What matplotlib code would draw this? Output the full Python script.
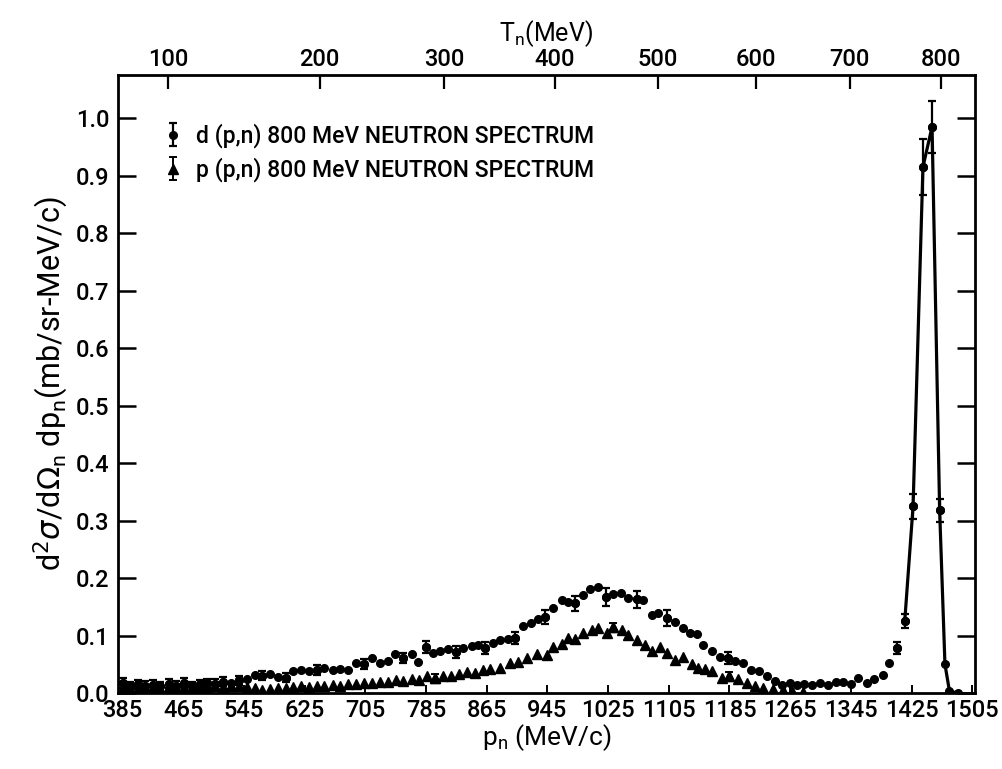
import numpy as np
import matplotlib
matplotlib.use("Agg")
import matplotlib.pyplot as plt

M_N = 939.6  # neutron mass, MeV

# ---- d(p,n) 800 MeV neutron spectrum (circles) ----
d_p = [385, 395, 405, 415, 425, 435, 446, 456, 466, 476, 487, 497, 507, 518, 528,
       538, 549, 559, 569, 580, 590, 600, 610, 620, 631, 641, 651, 662, 672, 682,
       693, 703, 714, 724, 735, 744, 755, 767, 774, 785, 794, 803, 814, 825, 834,
       846, 854, 863, 873, 883, 893, 902, 913, 923, 933, 942, 952, 964, 972, 981,
       992, 1001, 1012, 1022, 1031, 1042, 1051, 1063, 1071, 1083, 1091, 1102, 1113,
       1124, 1133, 1142, 1150, 1162, 1172, 1183, 1192, 1203, 1213, 1224, 1234, 1245,
       1254, 1265, 1274, 1283, 1294, 1304, 1315, 1325, 1334, 1345, 1355, 1366, 1375,
       1387, 1395, 1406, 1416, 1427, 1440, 1452, 1462, 1469, 1475, 1486]
d_y = [0.018, 0.012, 0.015, 0.013, 0.014, 0.012, 0.016, 0.013, 0.018, 0.012, 0.015,
       0.017, 0.016, 0.020, 0.018, 0.022, 0.025, 0.032, 0.030, 0.033, 0.028, 0.027,
       0.038, 0.040, 0.038, 0.040, 0.043, 0.040, 0.042, 0.040, 0.052, 0.050, 0.061,
       0.052, 0.055, 0.068, 0.061, 0.068, 0.054, 0.080, 0.070, 0.073, 0.076, 0.071,
       0.078, 0.082, 0.083, 0.078, 0.087, 0.092, 0.094, 0.096, 0.117, 0.122, 0.128,
       0.132, 0.148, 0.162, 0.158, 0.156, 0.170, 0.181, 0.184, 0.167, 0.172, 0.174,
       0.165, 0.163, 0.162, 0.136, 0.139, 0.131, 0.124, 0.113, 0.104, 0.102, 0.083,
       0.073, 0.063, 0.061, 0.056, 0.052, 0.040, 0.038, 0.030, 0.021, 0.014, 0.017,
       0.014, 0.016, 0.014, 0.017, 0.014, 0.019, 0.019, 0.016, 0.026, 0.017, 0.024,
       0.031, 0.052, 0.078, 0.125, 0.325, 0.915, 0.985, 0.318, 0.050, 0.003, 0.000]
d_err = [0.009, 0.008, 0.008, 0.008, 0.008, 0.008, 0.008, 0.008, 0.008, 0.008, 0.008,
         0.008, 0.008, 0.008, 0.000, 0.008, 0.000, 0.000, 0.008, 0.000, 0.000, 0.008,
         0.000, 0.000, 0.000, 0.008, 0.000, 0.000, 0.000, 0.000, 0.000, 0.009, 0.000,
         0.000, 0.000, 0.000, 0.009, 0.000, 0.000, 0.010, 0.000, 0.000, 0.000, 0.010,
         0.000, 0.000, 0.000, 0.010, 0.000, 0.000, 0.000, 0.011, 0.000, 0.000, 0.000,
         0.012, 0.000, 0.000, 0.000, 0.013, 0.000, 0.000, 0.000, 0.016, 0.000, 0.000,
         0.000, 0.015, 0.000, 0.000, 0.000, 0.014, 0.000, 0.000, 0.000, 0.000, 0.000,
         0.000, 0.000, 0.010, 0.000, 0.000, 0.000, 0.000, 0.000, 0.000, 0.000, 0.000,
         0.000, 0.000, 0.000, 0.000, 0.000, 0.000, 0.000, 0.000, 0.000, 0.000, 0.000,
         0.000, 0.000, 0.010, 0.012, 0.022, 0.048, 0.045, 0.020, 0.000, 0.000, 0.000]
d_line_from = 1416  # solid line joins the quasi-elastic peak points from here on

# ---- p(p,n) 800 MeV neutron spectrum (triangles) ----
p_p = [385, 395, 405, 415, 425, 435, 446, 456, 466, 476, 487, 497, 507, 518, 528,
       538, 549, 559, 569, 580, 590, 600, 610, 620, 631, 641, 651, 662, 672, 682,
       693, 703, 714, 724, 735, 745, 755, 766, 776, 786, 797, 807, 818, 828, 839,
       849, 860, 870, 882, 896, 906, 918, 931, 944, 952, 964, 972, 981, 992, 1004,
       1012, 1023, 1031, 1043, 1051, 1063, 1074, 1083, 1093, 1102, 1113, 1124, 1135,
       1143, 1153, 1162, 1175, 1185, 1196, 1208, 1218, 1229, 1242, 1255, 1268, 1282]
p_y = [0.008, 0.006, 0.008, 0.007, 0.009, 0.007, 0.010, 0.008, 0.010, 0.009, 0.011,
       0.010, 0.012, 0.010, 0.013, 0.012, 0.010, 0.008, 0.006, 0.007, 0.009, 0.008,
       0.010, 0.012, 0.011, 0.013, 0.012, 0.014, 0.013, 0.016, 0.015, 0.018, 0.017,
       0.020, 0.019, 0.022, 0.021, 0.024, 0.023, 0.030, 0.027, 0.030, 0.029, 0.033,
       0.036, 0.034, 0.040, 0.041, 0.043, 0.052, 0.054, 0.061, 0.068, 0.066, 0.080,
       0.085, 0.096, 0.094, 0.104, 0.110, 0.113, 0.104, 0.115, 0.110, 0.101, 0.092,
       0.083, 0.073, 0.080, 0.070, 0.058, 0.062, 0.050, 0.043, 0.042, 0.038, 0.027,
       0.030, 0.024, 0.017, 0.012, 0.009, 0.007, 0.005, 0.003, 0.002]
p_err_at = [446, 528, 797, 1031, 1185]
p_err_val = [0.006, 0.006, 0.006, 0.007, 0.006]

x_ticks = [385, 465, 545, 625, 705, 785, 865, 945, 1025, 1105, 1185, 1265, 1345, 1425, 1505]
y_ticks = [0.0, 0.1, 0.2, 0.3, 0.4, 0.5, 0.6, 0.7, 0.8, 0.9, 1.0]
y_tick_labels = ["0.0", "0.1", "0.2", "0.3", "0.4", "0.5", "0.6", "0.7", "0.8", "0.9", "1.0"]
t_ticks = [100, 200, 300, 400, 500, 600, 700, 800]

plt.rcParams['font.family'] = ['Roboto', 'DejaVu Sans']
plt.rcParams['font.weight'] = 'medium'
plt.rcParams['mathtext.fontset'] = 'dejavusans'

fig = plt.figure(figsize=(10.03, 7.69), dpi=100)
ax = fig.add_axes([0.1176, 0.0988, 0.8544, 0.8036])

d_p_a = np.array(d_p, float)
d_y_a = np.array(d_y, float)
d_err_a = np.array(d_err, float)

# peak connecting line
mline = d_p_a >= d_line_from
ax.plot(d_p_a[mline], d_y_a[mline], color='black', lw=2.3, zorder=2)

# circles
ax.plot(d_p_a, d_y_a, 'o', color='black', ms=5.5, zorder=3)
m = d_err_a > 0
eb_d = ax.errorbar(d_p_a[m], d_y_a[m], yerr=d_err_a[m], fmt='o', color='black',
                   ms=5.5, capsize=3, elinewidth=1.6, capthick=1.6, zorder=3)

# triangles
ax.plot(p_p, p_y, '^', color='black', ms=7, zorder=3)
pe_y = [p_y[p_p.index(v)] for v in p_err_at]
eb_p = ax.errorbar(p_err_at, pe_y, yerr=p_err_val, fmt='^', color='black',
                   ms=7, capsize=3, elinewidth=1.4, capthick=1.4, zorder=3)

ax.set_xlim(379, 1508.5)
ax.set_ylim(0, 1.075)

ax.set_xticks(x_ticks)
ax.set_xticklabels([str(v) for v in x_ticks])
ax.set_yticks(y_ticks)
ax.set_yticklabels(y_tick_labels)

ax.tick_params(axis='y', which='major', direction='in', length=13, width=1.8,
               right=True, labelsize=17, pad=6)
ax.tick_params(axis='x', which='major', direction='in', length=6, width=1.4,
               top=False, labelsize=17, pad=4)
for s in ax.spines.values():
    s.set_linewidth(2.0)

ax.set_xlabel(r"p$_\mathregular{n}$ (MeV/c)", fontsize=19, labelpad=0)
ax.set_ylabel(r"d$^2\sigma$/d$\Omega_\mathregular{n}$ dp$_\mathregular{n}$(mb/sr-MeV/c)",
              fontsize=22, labelpad=4)

# top axis: neutron kinetic energy
def p_to_t(p):
    p = np.asarray(p, float)
    return np.sqrt(p ** 2 + M_N ** 2) - M_N

def t_to_p(t):
    t = np.clip(np.asarray(t, float), 0, None)
    return np.sqrt((t + M_N) ** 2 - M_N ** 2)

sec = ax.secondary_xaxis('top', functions=(p_to_t, t_to_p))
sec.set_xticks(t_ticks)
sec.set_xticklabels([str(v) for v in t_ticks])
sec.tick_params(direction='in', length=10, width=1.6, labelsize=17, pad=3)
sec.set_xlabel(r"T$_\mathregular{n}$(MeV)", fontsize=18, labelpad=5)

leg = ax.legend([eb_d, eb_p],
                ["d (p,n) 800 MeV NEUTRON SPECTRUM",
                 "p (p,n) 800 MeV NEUTRON SPECTRUM"],
                loc='upper left', bbox_to_anchor=(0.03, 0.955), frameon=False,
                fontsize=16.5, handlelength=0.8, handletextpad=0.6, labelspacing=0.4)

fig.savefig("out.png", dpi=100)
